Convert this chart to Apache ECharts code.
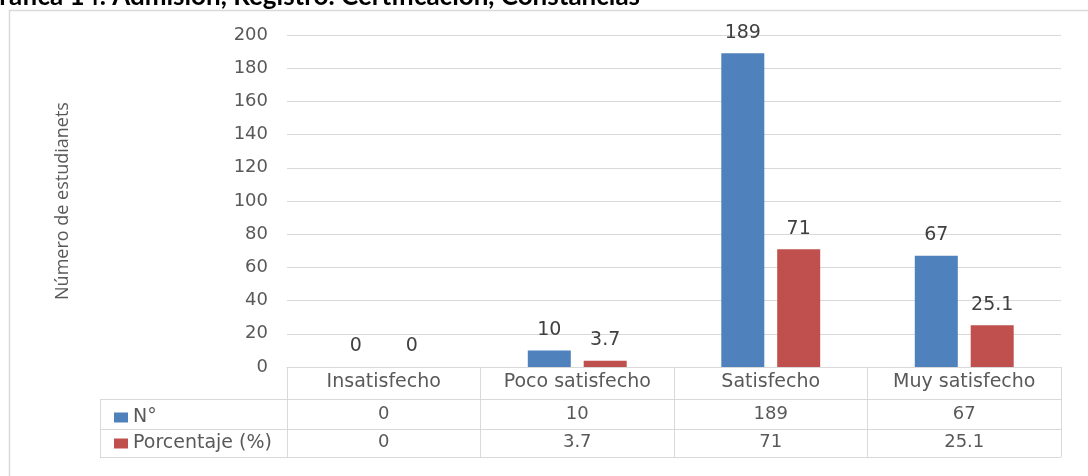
<!DOCTYPE html>
<html>
<head>
<meta charset="utf-8">
<script src="https://cdn.jsdelivr.net/npm/echarts@6/dist/echarts.min.js"></script>
<style>html,body{margin:0;padding:0;background:#fff}#c{width:1088px;height:476px}</style>
</head>
<body>
<div id="c"></div>
<script>
var categories = ['Insatisfecho', 'Poco satisfecho', 'Satisfecho', 'Muy satisfecho'];
var seriesNames = ['N°', 'Porcentaje (%)'];
var nValues = [0, 10, 189, 67];
var pctValues = [0, 3.7, 71, 25.1];
var yTicks = [0, 20, 40, 60, 80, 100, 120, 140, 160, 180, 200];
var titleText = 'Gráfica 14. Admisión, Registro. Certificación, Constancias';
var yName = 'Número de estudianets';

var chart = echarts.init(document.getElementById('c'));
var grey = '#d9d9d9';
var txt = '#595959';
var fTable = 'DejaVu Sans';
var labelStyle = {show: true, position: 'top', distance: 11, color: '#404040', fontFamily: 'DejaVu Sans', fontSize: 19};

chart.setOption({
  animation: false,
  grid: {left: 287, right: 27, top: 35, bottom: 109},
  legend: {
    orient: 'vertical', left: 109, top: 403, itemWidth: 14, itemHeight: 10, itemGap: 7,
    icon: 'rect', itemTextGap: 3, selectedMode: false,
    textStyle: {color: txt, fontFamily: fTable, fontSize: 19},
    data: seriesNames
  },
  xAxis: [
    {type: 'category', data: categories, position: 'bottom',
     axisLine: {lineStyle: {color: grey}},
     axisTick: {show: true, interval: 0, length: 90, lineStyle: {color: grey}},
     axisLabel: {interval: 0, margin: 6, color: txt, fontFamily: fTable, fontSize: 19}},
    {type: 'category', data: categories, position: 'bottom', offset: 0,
     axisLine: {show: false}, axisTick: {show: false},
     axisLabel: {interval: 0, margin: 38, color: txt, fontFamily: fTable, fontSize: 18,
       formatter: function (v, i) { return String(nValues[i]); }}},
    {type: 'category', data: categories, position: 'bottom', offset: 0,
     axisLine: {show: false}, axisTick: {show: false},
     axisLabel: {interval: 0, margin: 66, color: txt, fontFamily: fTable, fontSize: 18,
       formatter: function (v, i) { return String(pctValues[i]); }}}
  ],
  yAxis: {
    type: 'value', min: yTicks[0], max: yTicks[yTicks.length - 1], interval: yTicks[1] - yTicks[0],
    name: yName, nameLocation: 'middle', nameGap: 215, nameRotate: 90,
    nameTextStyle: {color: txt, fontFamily: 'Open Sans', fontSize: 18},
    axisLine: {show: false}, axisTick: {show: false},
    splitLine: {lineStyle: {color: grey}},
    axisLabel: {color: txt, fontFamily: 'DejaVu Sans', fontSize: 18, margin: 19}
  },
  series: [
    {name: seriesNames[0], type: 'bar', xAxisIndex: 0, data: nValues, barWidth: 43, barGap: '30%',
     itemStyle: {color: '#4f81bd'}, label: labelStyle},
    {name: seriesNames[1], type: 'bar', xAxisIndex: 0, data: pctValues, barWidth: 43,
     itemStyle: {color: '#c0504d'}, label: labelStyle}
  ],
  graphic: [
    {type: 'rect', shape: {x: 9.5, y: 10.5, width: 1100, height: 500}, style: {fill: null, stroke: grey, lineWidth: 1.5}, silent: true},
    {type: 'line', shape: {x1: 100, y1: 399.5, x2: 1061, y2: 399.5}, style: {stroke: grey, lineWidth: 1}},
    {type: 'line', shape: {x1: 100, y1: 429.5, x2: 1061, y2: 429.5}, style: {stroke: grey, lineWidth: 1}},
    {type: 'line', shape: {x1: 100, y1: 457.5, x2: 1061, y2: 457.5}, style: {stroke: grey, lineWidth: 1}},
    {type: 'line', shape: {x1: 100.5, y1: 399, x2: 100.5, y2: 458}, style: {stroke: grey, lineWidth: 1}},
    {type: 'text', x: 640, y: 10, style: {text: titleText, align: 'right', verticalAlign: 'bottom', fill: '#000', font: 'bold 26px Lato'}}
  ]
});
</script>
</body>
</html>
